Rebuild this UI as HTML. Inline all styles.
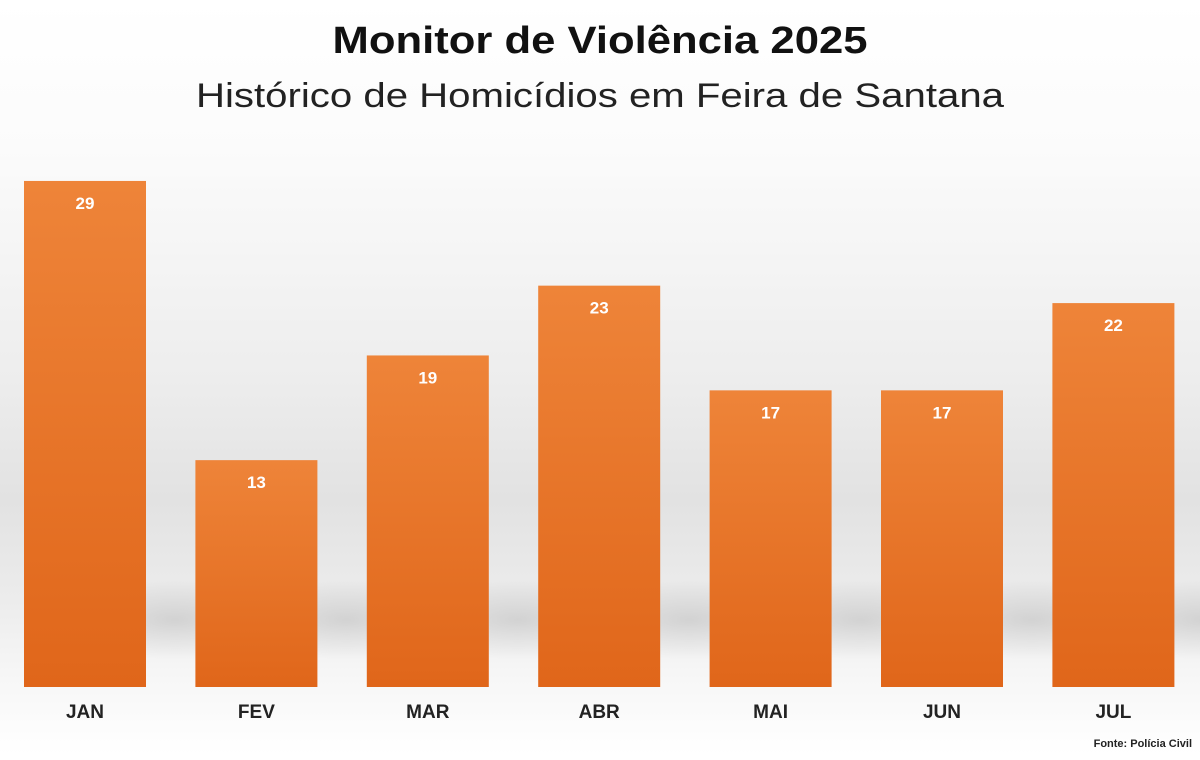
<!DOCTYPE html>
<html><head><meta charset="utf-8"><style>
body{margin:0;width:1200px;height:755px;overflow:hidden;font-family:"Liberation Sans",sans-serif;
background:linear-gradient(to bottom,#ffffff 0px,#fbfbfb 150px,#ededed 380px,#e2e2e2 500px,#ececec 600px,#f7f7f7 680px,#ffffff 755px);}
</style></head><body>
<svg width="1200" height="755" xmlns="http://www.w3.org/2000/svg">
<defs>
<linearGradient id="bg" x1="0" y1="0" x2="0" y2="1">
<stop offset="0" stop-color="#ee8439"/><stop offset="1" stop-color="#e0661a"/>
</linearGradient>
<radialGradient id="sh" cx="0.5" cy="0.5" r="0.5">
<stop offset="0" stop-color="#000" stop-opacity="0.12"/><stop offset="1" stop-color="#000" stop-opacity="0"/>
</radialGradient>
</defs>
<text x="600" y="53" text-anchor="middle" font-size="38" font-weight="bold" fill="#111" textLength="535" lengthAdjust="spacingAndGlyphs">Monitor de Violência 2025</text>
<text x="600" y="107" text-anchor="middle" font-size="34" fill="#222" textLength="808" lengthAdjust="spacingAndGlyphs">Histórico de Homicídios em Feira de Santana</text>
<g id="shadows"></g>
<g id="bars"></g>
<text x="1192" y="747" text-anchor="end" font-size="11" font-weight="bold" fill="#222">Fonte: Polícia Civil</text>
</svg>
<script>
const months=["JAN","FEV","MAR","ABR","MAI","JUN","JUL"];
const values=[29,13,19,23,17,17,22];
const baseY=687, unit=17.45, x0=85, step=171.4, bw=122;
const ns="http://www.w3.org/2000/svg";
const g=document.getElementById("bars"), sg=document.getElementById("shadows");
function xs(i){return x0+i*step;}
function ys(v){return baseY-v*unit;}
months.forEach((m,i)=>{
  const cx=xs(i), top=ys(values[i]);
  const s=document.createElementNS(ns,"ellipse");
  
  
  s.setAttribute("cx",cx+90);s.setAttribute("cy",620);s.setAttribute("rx",120);s.setAttribute("ry",40);s.setAttribute("fill","url(#sh)");
  sg.appendChild(s);
  const r=document.createElementNS(ns,"rect");
  
  
  r.setAttribute("x",cx-bw/2);r.setAttribute("y",top);r.setAttribute("width",bw);r.setAttribute("height",baseY-top);r.setAttribute("fill","url(#bg)");
  g.appendChild(r);
  const t=document.createElementNS(ns,"text");
  
  
  t.setAttribute("x",cx);t.setAttribute("y",top+28);t.setAttribute("text-anchor","middle");t.setAttribute("font-size","17");t.setAttribute("font-weight","bold");t.setAttribute("fill","#fff");
  t.textContent=values[i];g.appendChild(t);
  const l=document.createElementNS(ns,"text");
  
  
  l.setAttribute("x",cx);l.setAttribute("y",718);l.setAttribute("text-anchor","middle");l.setAttribute("font-size","19");l.setAttribute("font-weight","bold");l.setAttribute("fill","#222");
  l.textContent=m;g.appendChild(l);
});
</script>
</body></html>
